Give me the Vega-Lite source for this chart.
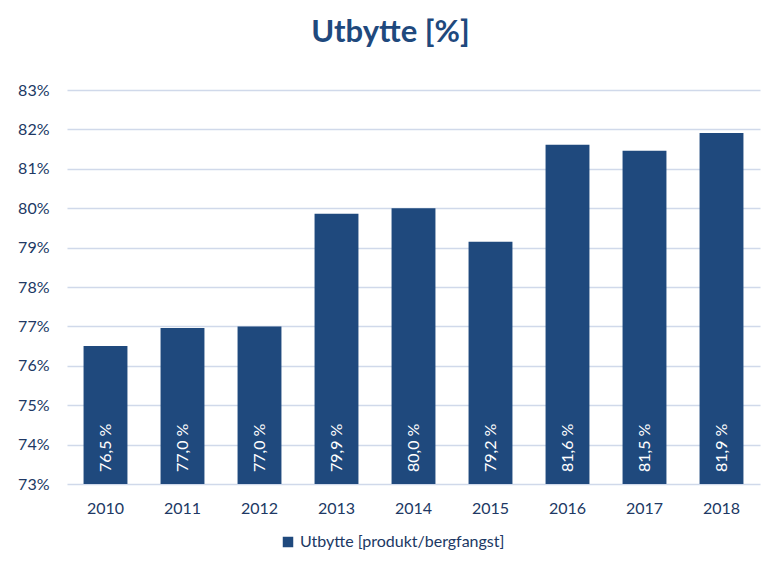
{
  "$schema": "https://vega.github.io/schema/vega-lite/v6.json",
  "autosize": {"type": "none"},
  "width": 693,
  "height": 394,
  "padding": {"left": 67, "top": 90, "right": 19, "bottom": 88},
  "background": "white",
  "config": {
    "view": {"stroke": null},
    "font": "Lato",
    "locale": {"number": {"decimal": ",", "thousands": " ", "grouping": [3], "currency": ["", " kr"]}}
  },
  "title": {
    "text": "Utbytte [%]",
    "fontSize": 31,
    "fontWeight": "bold",
    "color": "#1F497D",
    "anchor": "middle",
    "offset": 33,
    "dx": -23,
    "font": "Lato"
  },
  "data": {
    "values": [
      {"year": "2010", "value": 76.5, "series": "Utbytte [produkt/bergfangst]"},
      {"year": "2011", "value": 76.96, "series": "Utbytte [produkt/bergfangst]"},
      {"year": "2012", "value": 77.0, "series": "Utbytte [produkt/bergfangst]"},
      {"year": "2013", "value": 79.86, "series": "Utbytte [produkt/bergfangst]"},
      {"year": "2014", "value": 80.0, "series": "Utbytte [produkt/bergfangst]"},
      {"year": "2015", "value": 79.15, "series": "Utbytte [produkt/bergfangst]"},
      {"year": "2016", "value": 81.61, "series": "Utbytte [produkt/bergfangst]"},
      {"year": "2017", "value": 81.46, "series": "Utbytte [produkt/bergfangst]"},
      {"year": "2018", "value": 81.91, "series": "Utbytte [produkt/bergfangst]"}
    ]
  },
  "encoding": {
    "x": {
      "field": "year",
      "type": "nominal",
      "scale": {"paddingInner": 0.43, "paddingOuter": 0.215},
      "axis": {
        "title": null,
        "labelAngle": 0,
        "labelFontSize": 16,
        "labelColor": "#203864",
        "labelPadding": 16,
        "domain": false,
        "ticks": false,
        "grid": false
      }
    }
  },
  "layer": [
    {
      "mark": {"type": "bar", "color": "#1F497D"},
      "encoding": {
        "y": {
          "field": "value",
          "type": "quantitative",
          "scale": {"domain": [73, 83], "zero": false, "clamp": true},
          "axis": {
            "title": null,
            "values": [73, 74, 75, 76, 77, 78, 79, 80, 81, 82, 83],
            "labelExpr": "datum.value + '%'",
            "labelOverlap": false,
            "labelFontSize": 16,
            "labelColor": "#203864",
            "labelPadding": 18,
            "domain": false,
            "ticks": false,
            "grid": true,
            "gridColor": "#D0D9EA",
            "gridWidth": 1.5
          }
        },
        "y2": {"datum": 73},
        "color": {
          "field": "series",
          "type": "nominal",
          "scale": {"range": ["#1F497D"]},
          "legend": {
            "title": null,
            "orient": "none",
            "legendX": 213,
            "legendY": 444,
            "symbolType": "square",
            "symbolSize": 110,
            "labelFontSize": 16,
            "labelColor": "#203864",
            "labelLimit": 400
          }
        }
      }
    },
    {
      "mark": {"type": "text", "angle": -90, "align": "left", "baseline": "middle", "color": "white", "fontSize": 16, "dx": 12, "text": {"expr": "format(datum.value, '.1f') + ' %'"}},
      "encoding": {
        "y": {
          "datum": 73,
          "type": "quantitative",
          "axis": {
            "title": null,
            "values": [73, 74, 75, 76, 77, 78, 79, 80, 81, 82, 83],
            "labelExpr": "datum.value + '%'",
            "labelOverlap": false,
            "labelFontSize": 16,
            "labelColor": "#203864",
            "labelPadding": 18,
            "domain": false,
            "ticks": false,
            "grid": true,
            "gridColor": "#D0D9EA",
            "gridWidth": 1.5
          }
        }
      }
    }
  ]
}
